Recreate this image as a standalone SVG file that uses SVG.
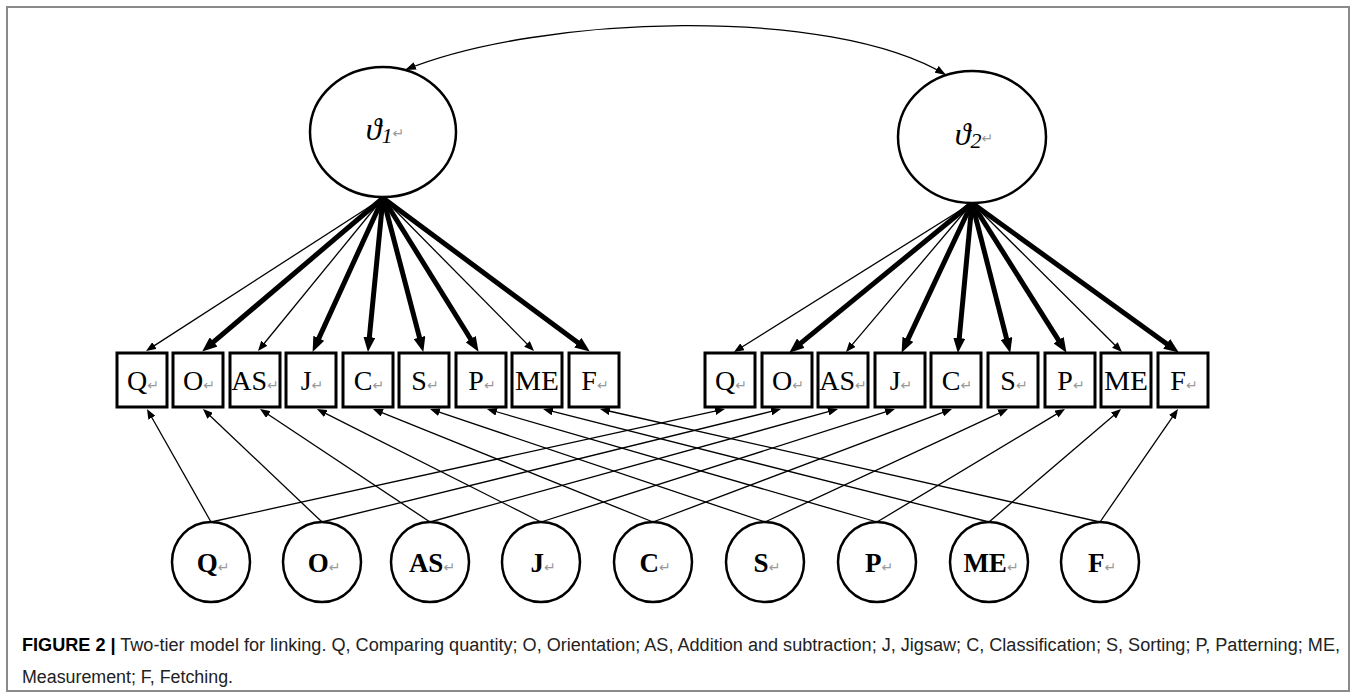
<svg xmlns="http://www.w3.org/2000/svg" width="1357" height="699" viewBox="0 0 1357 699">
<style>
.frame{fill:none;stroke:#8a8a8a;stroke-width:2}
.lat{fill:#fff;stroke:#000;stroke-width:2.5}
.box{fill:#fff;stroke:#000;stroke-width:3}
.fac{fill:#fff;stroke:#000;stroke-width:2.5}
.thick{stroke:#000;stroke-width:5;fill:none;marker-end:url(#hk)}
.thin{stroke:#000;stroke-width:1.3;fill:none;marker-end:url(#hn)}
.curve{stroke:#000;stroke-width:1.3;fill:none;marker-start:url(#hc);marker-end:url(#hc)}
.bt{font-family:"Liberation Serif","DejaVu Serif",serif;font-size:28px;text-anchor:middle;fill:#000}
.ct{font-family:"Liberation Serif","DejaVu Serif",serif;font-size:27px;font-weight:bold;text-anchor:middle;fill:#000}
.th{font-family:"Liberation Serif","DejaVu Serif",serif;font-size:32px;font-style:italic;text-anchor:middle;fill:#000}
.rm{fill:#999;font-size:14px;font-weight:normal;font-style:normal;font-family:"DejaVu Sans",sans-serif}
.cap{font-family:"Liberation Sans",Arial,sans-serif;font-size:18px;fill:#222}
</style>
<defs>
<marker id="hk" markerUnits="userSpaceOnUse" viewBox="0 0 15 12" markerWidth="15" markerHeight="12" refX="2" refY="6" orient="auto"><path d="M0,0 L15,6 L0,12 z" fill="#000"/></marker>
<marker id="hn" markerUnits="userSpaceOnUse" viewBox="0 0 10 8" markerWidth="10" markerHeight="8" refX="1" refY="4" orient="auto"><path d="M0,0 L10,4 L0,8 z" fill="#000"/></marker>
<marker id="hc" markerUnits="userSpaceOnUse" viewBox="0 0 11 8" markerWidth="11" markerHeight="8" refX="11" refY="4" orient="auto-start-reverse"><path d="M0,0 L11,4 L0,8 z" fill="#000"/></marker>
</defs>
<rect class="frame" x="7" y="7" width="1342" height="684"/>
<g id="connectors">
<path class="curve" d="M405,70 C540,15 830,5 946,75"/>
<line class="thin" x1="383" y1="198" x2="153.6" y2="346.1"/>
<line class="thick" x1="383" y1="198" x2="212.1" y2="343.2"/>
<line class="thin" x1="383" y1="198" x2="263.7" y2="344.0"/>
<line class="thick" x1="383" y1="198" x2="318.0" y2="340.1"/>
<line class="thick" x1="383" y1="198" x2="369.2" y2="339.1"/>
<line class="thick" x1="383" y1="198" x2="420.0" y2="339.4"/>
<line class="thick" x1="383" y1="198" x2="471.7" y2="340.8"/>
<line class="thin" x1="383" y1="198" x2="527.7" y2="344.6"/>
<line class="thick" x1="383" y1="198" x2="579.4" y2="343.8"/>
<line class="thin" x1="972" y1="203" x2="741.6" y2="347.2"/>
<line class="thick" x1="972" y1="203" x2="799.3" y2="344.4"/>
<line class="thin" x1="972" y1="203" x2="851.8" y2="345.1"/>
<line class="thick" x1="972" y1="203" x2="907.1" y2="341.1"/>
<line class="thick" x1="972" y1="203" x2="959.1" y2="340.1"/>
<line class="thick" x1="972" y1="203" x2="1007.0" y2="340.4"/>
<line class="thick" x1="972" y1="203" x2="1059.6" y2="341.8"/>
<line class="thin" x1="972" y1="203" x2="1115.6" y2="345.7"/>
<line class="thick" x1="972" y1="203" x2="1168.3" y2="345.0"/>
<line class="thin" x1="211" y1="522" x2="151.4" y2="416.8"/>
<line class="thin" x1="322" y1="522" x2="209.5" y2="415.2"/>
<line class="thin" x1="430" y1="522" x2="267.5" y2="414.0"/>
<line class="thin" x1="541" y1="522" x2="325.0" y2="413.1"/>
<line class="thin" x1="653" y1="522" x2="381.3" y2="412.4"/>
<line class="thin" x1="765" y1="522" x2="438.5" y2="411.9"/>
<line class="thin" x1="877" y1="522" x2="495.6" y2="411.5"/>
<line class="thin" x1="989" y1="522" x2="551.7" y2="411.2"/>
<line class="thin" x1="1100" y1="522" x2="608.8" y2="411.0"/>
<line class="thin" x1="211" y1="522" x2="716.2" y2="410.9"/>
<line class="thin" x1="322" y1="522" x2="772.3" y2="411.2"/>
<line class="thin" x1="430" y1="522" x2="829.3" y2="411.4"/>
<line class="thin" x1="541" y1="522" x2="886.4" y2="411.7"/>
<line class="thin" x1="653" y1="522" x2="943.6" y2="412.2"/>
<line class="thin" x1="765" y1="522" x2="999.8" y2="412.8"/>
<line class="thin" x1="877" y1="522" x2="1057.3" y2="413.6"/>
<line class="thin" x1="989" y1="522" x2="1114.2" y2="414.9"/>
<line class="thin" x1="1100" y1="522" x2="1172.9" y2="416.4"/>
</g>
<g id="theta1"><ellipse class="lat" cx="383" cy="132" rx="73" ry="65"/><text class="th" x="385" y="140">ϑ<tspan font-size="22" dy="3">1</tspan><tspan class="rm" dy="-5">↵</tspan></text></g>
<g id="theta2"><ellipse class="lat" cx="972" cy="137" rx="74" ry="66"/><text class="th" x="974" y="145">ϑ<tspan font-size="22" dy="3">2</tspan><tspan class="rm" dy="-5">↵</tspan></text></g>
<g id="L-Q"><rect class="box" x="117" y="353" width="50" height="54"/><text class="bt" x="143" y="390">Q<tspan class="rm">↵</tspan></text></g>
<g id="L-O"><rect class="box" x="173" y="353" width="50" height="54"/><text class="bt" x="199" y="390">O<tspan class="rm">↵</tspan></text></g>
<g id="L-AS"><rect class="box" x="230" y="353" width="50" height="54"/><text class="bt" x="255" y="390">AS<tspan class="rm" font-size="8px">↵</tspan></text></g>
<g id="L-J"><rect class="box" x="286" y="353" width="50" height="54"/><text class="bt" x="312" y="390">J<tspan class="rm">↵</tspan></text></g>
<g id="L-C"><rect class="box" x="343" y="353" width="50" height="54"/><text class="bt" x="369" y="390">C<tspan class="rm">↵</tspan></text></g>
<g id="L-S"><rect class="box" x="399" y="353" width="50" height="54"/><text class="bt" x="425" y="390">S<tspan class="rm">↵</tspan></text></g>
<g id="L-P"><rect class="box" x="456" y="353" width="50" height="54"/><text class="bt" x="482" y="390">P<tspan class="rm">↵</tspan></text></g>
<g id="L-ME"><rect class="box" x="512" y="353" width="50" height="54"/><text class="bt" x="537" y="390" textLength="44" lengthAdjust="spacingAndGlyphs">ME</text></g>
<g id="L-F"><rect class="box" x="569" y="353" width="50" height="54"/><text class="bt" x="595" y="390">F<tspan class="rm">↵</tspan></text></g>
<g id="R-Q"><rect class="box" x="705" y="353" width="50" height="54"/><text class="bt" x="731" y="390">Q<tspan class="rm">↵</tspan></text></g>
<g id="R-O"><rect class="box" x="762" y="353" width="50" height="54"/><text class="bt" x="788" y="390">O<tspan class="rm">↵</tspan></text></g>
<g id="R-AS"><rect class="box" x="818" y="353" width="50" height="54"/><text class="bt" x="843" y="390">AS<tspan class="rm" font-size="8px">↵</tspan></text></g>
<g id="R-J"><rect class="box" x="875" y="353" width="50" height="54"/><text class="bt" x="901" y="390">J<tspan class="rm">↵</tspan></text></g>
<g id="R-C"><rect class="box" x="931" y="353" width="50" height="54"/><text class="bt" x="957" y="390">C<tspan class="rm">↵</tspan></text></g>
<g id="R-S"><rect class="box" x="988" y="353" width="50" height="54"/><text class="bt" x="1014" y="390">S<tspan class="rm">↵</tspan></text></g>
<g id="R-P"><rect class="box" x="1045" y="353" width="50" height="54"/><text class="bt" x="1071" y="390">P<tspan class="rm">↵</tspan></text></g>
<g id="R-ME"><rect class="box" x="1101" y="353" width="50" height="54"/><text class="bt" x="1126" y="390" textLength="44" lengthAdjust="spacingAndGlyphs">ME</text></g>
<g id="R-F"><rect class="box" x="1158" y="353" width="50" height="54"/><text class="bt" x="1184" y="390">F<tspan class="rm">↵</tspan></text></g>
<g id="S-Q"><ellipse class="fac" cx="211" cy="562" rx="39" ry="40"/><text class="ct" x="213" y="572">Q<tspan class="rm">↵</tspan></text></g>
<g id="S-O"><ellipse class="fac" cx="322" cy="562" rx="39" ry="40"/><text class="ct" x="324" y="572">O<tspan class="rm">↵</tspan></text></g>
<g id="S-AS"><ellipse class="fac" cx="430" cy="562" rx="39" ry="40"/><text class="ct" x="432" y="572">AS<tspan class="rm">↵</tspan></text></g>
<g id="S-J"><ellipse class="fac" cx="541" cy="562" rx="39" ry="40"/><text class="ct" x="543" y="572">J<tspan class="rm">↵</tspan></text></g>
<g id="S-C"><ellipse class="fac" cx="653" cy="562" rx="39" ry="40"/><text class="ct" x="655" y="572">C<tspan class="rm">↵</tspan></text></g>
<g id="S-S"><ellipse class="fac" cx="765" cy="562" rx="39" ry="40"/><text class="ct" x="767" y="572">S<tspan class="rm">↵</tspan></text></g>
<g id="S-P"><ellipse class="fac" cx="877" cy="562" rx="39" ry="40"/><text class="ct" x="879" y="572">P<tspan class="rm">↵</tspan></text></g>
<g id="S-ME"><ellipse class="fac" cx="989" cy="562" rx="39" ry="40"/><text class="ct" x="991" y="572">ME<tspan class="rm" font-size="9px">↵</tspan></text></g>
<g id="S-F"><ellipse class="fac" cx="1100" cy="562" rx="39" ry="40"/><text class="ct" x="1102" y="572">F<tspan class="rm">↵</tspan></text></g>
<g id="caption">
<text class="cap" x="22" y="651" textLength="1318" lengthAdjust="spacingAndGlyphs"><tspan font-weight="bold" fill="#000">FIGURE 2 |</tspan> Two-tier model for linking. Q, Comparing quantity; O, Orientation; AS, Addition and subtraction; J, Jigsaw; C, Classification; S, Sorting; P, Patterning; ME,</text>
<text class="cap" x="22" y="683" textLength="211" lengthAdjust="spacingAndGlyphs">Measurement; F, Fetching.</text>
</g>
</svg>
